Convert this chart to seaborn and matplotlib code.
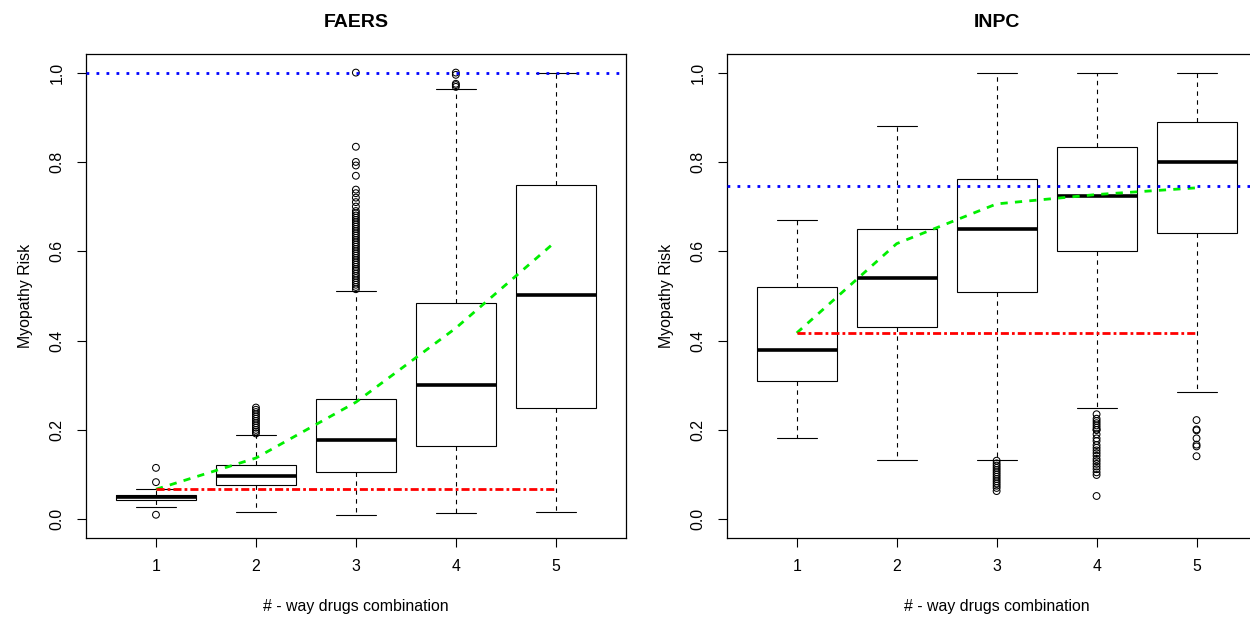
import pandas as pd
import matplotlib
matplotlib.use("Agg")
import matplotlib.pyplot as plt
import seaborn as sns

# -------------------------
# data
# -------------------------
ways = [1, 2, 3, 4, 5]

# FAERS box stats (lower whisker, q1, median, q3, upper whisker)
faers_lo = [0.028, 0.017, 0.010, 0.015, 0.017]
faers_q1 = [0.042, 0.076, 0.106, 0.165, 0.250]
faers_med = [0.049, 0.097, 0.178, 0.300, 0.501]
faers_q3 = [0.054, 0.121, 0.269, 0.485, 0.749]
faers_hi = [0.067, 0.189, 0.512, 0.964, 1.000]
faers_out = {
    1: [0.115, 0.083, 0.010],
    2: [0.192, 0.196, 0.200, 0.205, 0.210, 0.215, 0.220, 0.225, 0.230,
        0.235, 0.240, 0.245, 0.250],
    3: [0.515, 0.520, 0.525, 0.530, 0.535, 0.540, 0.545, 0.550, 0.556,
        0.560, 0.565, 0.570, 0.575, 0.580, 0.585, 0.590, 0.595, 0.600,
        0.605, 0.610, 0.615, 0.620, 0.625, 0.630, 0.635, 0.640, 0.645,
        0.650, 0.655, 0.660, 0.665, 0.670, 0.675, 0.680, 0.685, 0.690,
        0.700, 0.710, 0.720, 0.730, 0.738, 0.769, 0.792, 0.800, 0.834, 1.000],
    4: [0.968, 0.972, 0.975, 0.995, 1.000],
    5: [],
}
faers_trend = [0.067, 0.137, 0.262, 0.428, 0.622]
faers_base = 0.067
faers_ref = 1.0

# INPC box stats
inpc_lo = [0.182, 0.133, 0.132, 0.250, 0.285]
inpc_q1 = [0.309, 0.431, 0.509, 0.601, 0.640]
inpc_med = [0.379, 0.541, 0.649, 0.723, 0.800]
inpc_q3 = [0.519, 0.649, 0.762, 0.833, 0.889]
inpc_hi = [0.669, 0.880, 1.000, 1.000, 1.000]
inpc_out = {
    1: [],
    2: [],
    3: [0.131, 0.125, 0.120, 0.115, 0.110, 0.105, 0.100, 0.095, 0.090,
        0.085, 0.080, 0.075, 0.070, 0.063],
    4: [0.235, 0.225, 0.220, 0.215, 0.210, 0.205, 0.200, 0.200, 0.190,
        0.181, 0.175, 0.166, 0.160, 0.154, 0.148, 0.142, 0.135, 0.130,
        0.124, 0.118, 0.112, 0.105, 0.099, 0.052],
    5: [0.222, 0.201, 0.199, 0.181, 0.167, 0.163, 0.141],
}
inpc_trend = [0.417, 0.617, 0.706, 0.727, 0.742]
inpc_base = 0.417
inpc_ref = 0.745

titles = ["FAERS", "INPC"]
yticks = [0.0, 0.2, 0.4, 0.6, 0.8, 1.0]


def box_frame(lo, q1, med, q3, hi):
    # five numbers per group -> quartiles land exactly on q1/median/q3
    rows = []
    for i, k in enumerate(ways):
        for v in (lo[i], q1[i], med[i], q3[i], hi[i]):
            rows.append({"way": k, "risk": v})
    return pd.DataFrame(rows)


def outlier_frame(out):
    rows = [{"way": k, "risk": v} for k, vals in out.items() for v in vals]
    return pd.DataFrame(rows, columns=["way", "risk"])


# -------------------------
# style
# -------------------------
sns.set_style("ticks", {"axes.edgecolor": "black", "xtick.color": "black",
                        "ytick.color": "black", "text.color": "black",
                        "axes.labelcolor": "black"})
plt.rcParams["font.family"] = ["Liberation Sans", "DejaVu Sans"]

fig = plt.figure(figsize=(12.5, 6.19), dpi=100)
axes = [fig.add_axes([0.0688, 0.1309, 0.4318, 0.7814]),
        fig.add_axes([0.5814, 0.1309, 0.4318, 0.7814])]

panels = [
    (faers_lo, faers_q1, faers_med, faers_q3, faers_hi, faers_out,
     faers_trend, faers_base, faers_ref),
    (inpc_lo, inpc_q1, inpc_med, inpc_q3, inpc_hi, inpc_out,
     inpc_trend, inpc_base, inpc_ref),
]

for ax, title, p in zip(axes, titles, panels):
    lo, q1, med, q3, hi, out, trend, base, ref = p

    sns.boxplot(data=box_frame(lo, q1, med, q3, hi), x="way", y="risk",
                native_scale=True, whis=(0, 100), showfliers=False,
                width=0.8, color="white", linecolor="black", linewidth=0.8,
                medianprops={"linewidth": 2.6},
                whiskerprops={"linestyle": (0, (4, 4))},
                ax=ax)

    sns.scatterplot(data=outlier_frame(out), x="way", y="risk", marker="o",
                    s=24, fc="none", ec="black", linewidth=0.75, ax=ax,
                    zorder=3)

    sns.lineplot(x=ways, y=trend, color="#00ee00", linewidth=2,
                 linestyle=(0, (2.6, 2.6)), ax=ax, zorder=4)
    sns.lineplot(x=[ways[0], ways[-1]], y=[base, base], color="red",
                 linewidth=2, linestyle=(0, (2.9, 1.1, 1, 1.1)), ax=ax,
                 zorder=4)
    ax.axhline(ref, color="blue", linewidth=2, linestyle=(0, (1, 2.6)),
               zorder=4)

    ax.set_xlim(0.3, 5.7)
    ax.set_ylim(-0.042, 1.041)
    ax.set_xticks(ways)
    ax.set_xticklabels([str(k) for k in ways])
    ax.set_yticks(yticks)
    ax.set_yticklabels([f"{v:.1f}" for v in yticks], rotation=90,
                       va="center")
    ax.tick_params(length=6.3, width=0.8, labelsize=11.4, pad=9)
    for s in ax.spines.values():
        s.set_visible(True)
        s.set_linewidth(0.9)

    ax.set_title(title, fontsize=14, fontweight="bold", pad=20)
    ax.set_xlabel("# - way drugs combination", fontsize=11.4, labelpad=18)
    ax.set_ylabel("Myopathy Risk", fontsize=11.4, labelpad=12)

fig.savefig("out.png", dpi=100)
